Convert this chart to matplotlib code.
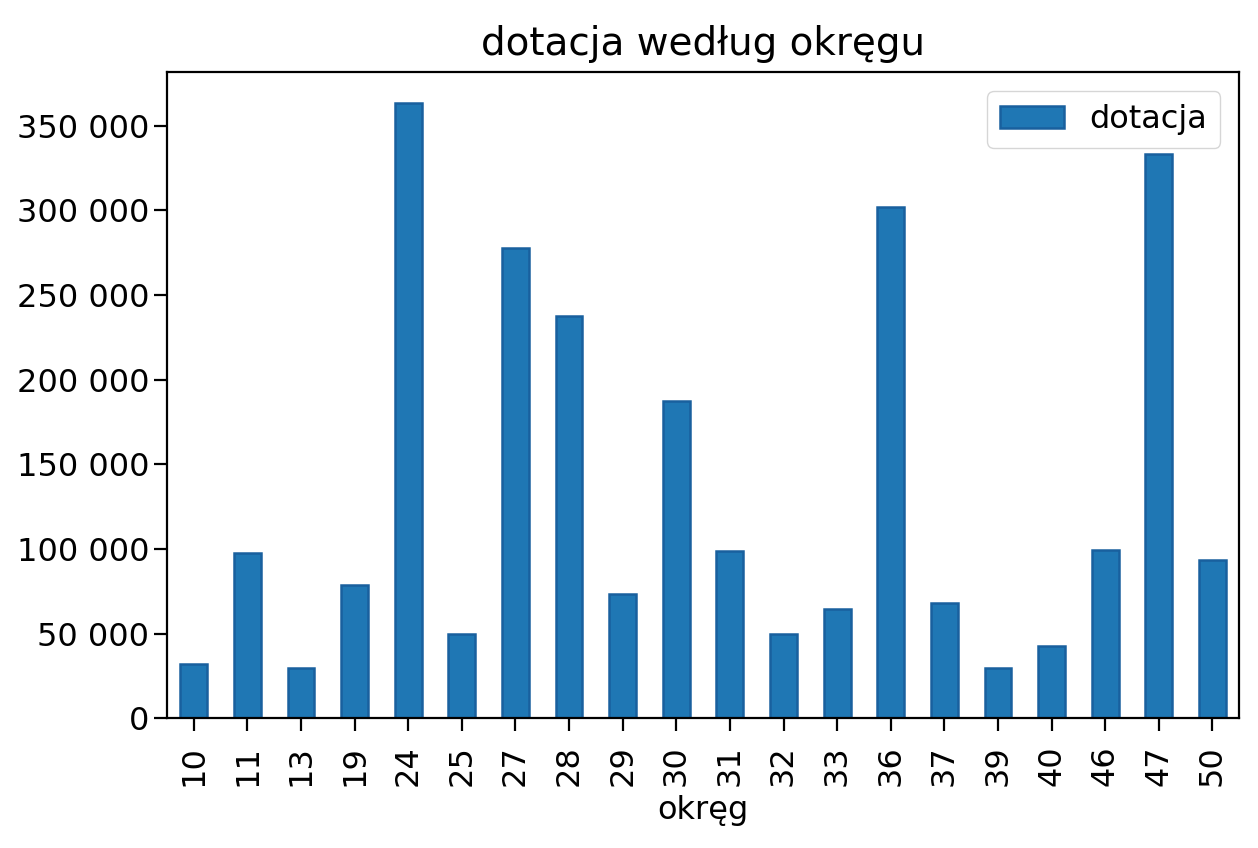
import matplotlib
matplotlib.use('Agg')
import matplotlib.pyplot as plt
from matplotlib.ticker import FuncFormatter
import numpy as np

# okręgi i dotacje
okregi = ['10', '11', '13', '19', '24', '25', '27', '28', '29', '30',
          '31', '32', '33', '36', '37', '39', '40', '46', '47', '50']
dotacja = [32000, 97500, 29500, 79000, 363500, 49600, 278000, 237500, 73200, 187500,
           98700, 49600, 64300, 302000, 67900, 29500, 42500, 99200, 333000, 93300]

plt.rcParams['font.family'] = 'DejaVu Sans'

fig = plt.figure(figsize=(12.58, 8.48), dpi=100)
ax = fig.add_axes([0.1328, 0.153, 0.8522, 0.762])

x = np.arange(len(okregi))
ax.bar(x, dotacja, width=0.5, color='#1f77b4', edgecolor='#19609e', linewidth=1.8, label='dotacja')

ax.set_xticks(x)
ax.set_xticklabels(okregi, rotation=90)
ax.set_xlim(-0.5, len(okregi) - 0.5)
ax.set_ylim(0, max(dotacja) * 1.05)
ax.yaxis.set_major_formatter(FuncFormatter(lambda v, p: f'{int(v):,}'.replace(',', ' ')))

ax.tick_params(labelsize=23, length=9.5, width=1.6)
ax.tick_params(axis='x', pad=10)
for s in ax.spines.values():
    s.set_linewidth(1.6)

ax.set_xlabel('okręg', fontsize=23, labelpad=6)
ax.set_title('dotacja według okręgu', fontsize=28, pad=12)
ax.legend(loc='upper right', fontsize=23, borderaxespad=0.6)

fig.savefig('out.png', dpi=100)
